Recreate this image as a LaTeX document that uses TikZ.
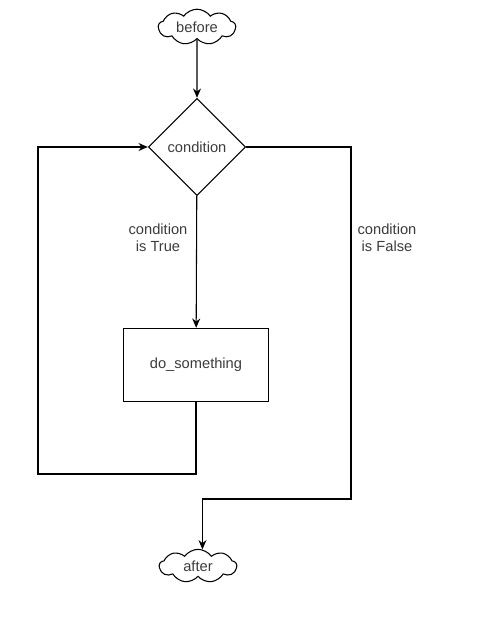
\documentclass[tikz,border=0pt]{standalone}
\usepackage{fontspec}
\setmainfont{Liberation Sans}
\definecolor{TextGray}{HTML}{3C3C3C}
\usetikzlibrary{arrows.meta, shapes.geometric, shapes.symbols}

\begin{document}
\begin{tikzpicture}[x=0.75pt, y=-0.75pt,
  font=\fontsize{11}{13}\selectfont, text=TextGray,
  cloud_node/.style={cloud, cloud puffs=9, cloud puff arc=110, aspect=2.2, draw, line width=0.8pt, minimum width=58pt, minimum height=25pt, inner sep=0pt},
  cond_node/.style={diamond, draw, line width=0.8pt, minimum width=73pt, minimum height=73pt, inner sep=0pt},
  box_node/.style={rectangle, draw, line width=0.8pt, minimum width=109pt, minimum height=55pt},
  flow/.style={-{Stealth[length=7pt, width=6pt]}, line width=0.8pt},
  lbl/.style={align=center, font=\fontsize{11}{12.8}\selectfont},
]
  \useasboundingbox (0,0) rectangle (484,617);
  \node[cloud_node] (before) at (197,27) {before};
  \node[cond_node] (cond) at (197,147) {condition};
  \node[box_node] (work) at (196,365) {do\_something};
  \node[cloud_node] (after) at (198,566) {after};
  \coordinate (loop_bl) at (38,474);
  \coordinate (false_br) at (351,499);
  % main path
  \draw[flow] (before) -- (cond);
  \draw[flow] (cond) -- (work);
  % back to the test
  \draw[flow] (work.south) |- (loop_bl) |- (cond.west);
  % leave the loop
  \draw[flow] (cond.east) -| (false_br) -| (after.75);
  \node[lbl] (true_lbl) at (158,238) {condition\\is True};
  \node[lbl] (false_lbl) at (387,238) {condition\\is False};
\end{tikzpicture}
\end{document}
